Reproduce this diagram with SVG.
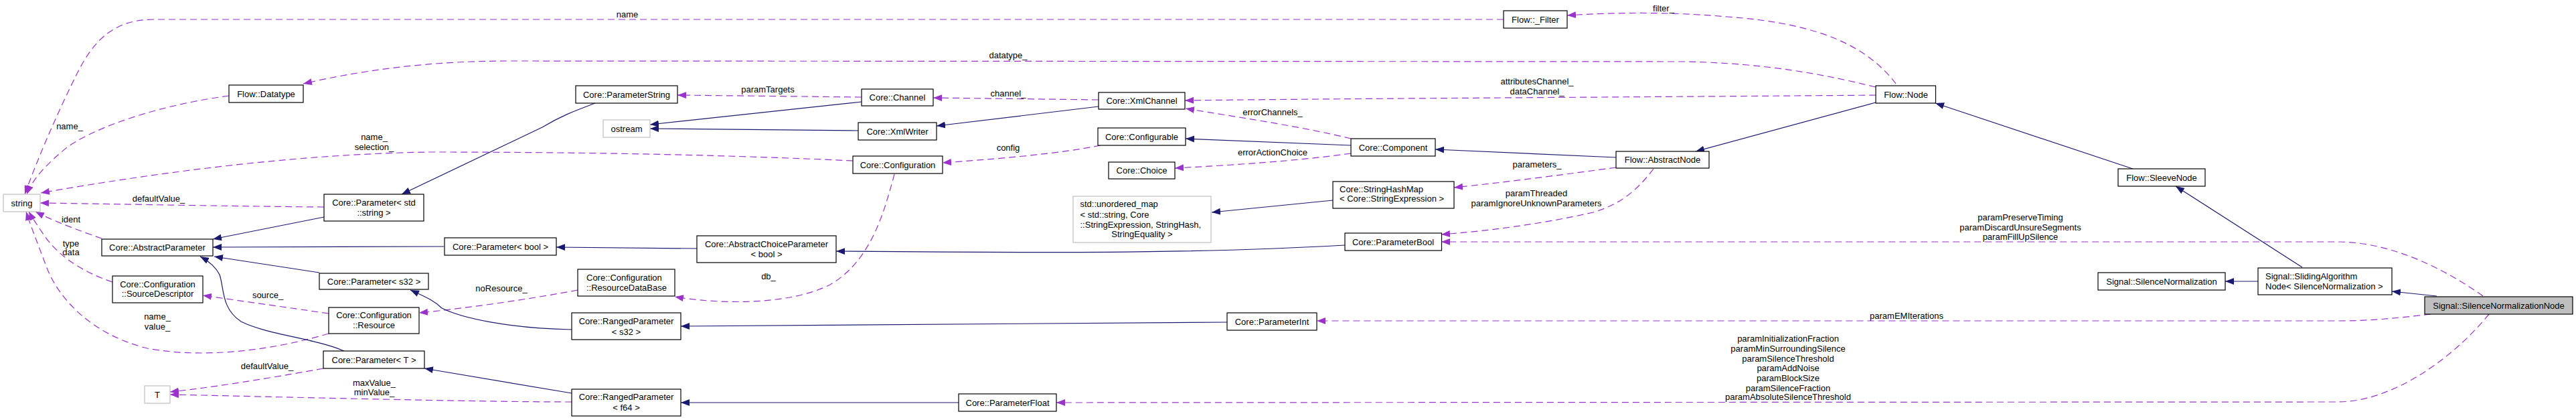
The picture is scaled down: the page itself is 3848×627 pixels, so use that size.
<svg xmlns="http://www.w3.org/2000/svg" width="3848" height="627" viewBox="0 0 3848 627">
<style>
text{font-family:"Liberation Sans",Arial,Helvetica,sans-serif;font-size:13px;fill:#000}
.c{text-anchor:middle}
.l{text-anchor:start}
.n rect{fill:#fff;stroke:#000;stroke-width:1.2}
.x rect{fill:#fff;stroke:#bfbfbf;stroke-width:1.2}
.f rect{fill:#bfbfbf;stroke:#000;stroke-width:1.2}
.inh path{fill:none;stroke:#191970;stroke-width:1.2;marker-end:url(#ai)}
.use path{fill:none;stroke:#9a32cd;stroke-width:1.2;stroke-dasharray:10,6;marker-end:url(#au)}
</style>
<defs>
<marker id="ai" viewBox="0 0 13 10" refX="13" refY="5" markerWidth="13" markerHeight="10" markerUnits="userSpaceOnUse" orient="auto"><path d="M0,0L13,5L0,10z" fill="#191970"/></marker>
<marker id="au" viewBox="0 0 13 10" refX="13" refY="5" markerWidth="13" markerHeight="10" markerUnits="userSpaceOnUse" orient="auto"><path d="M0,0L13,5L0,10z" fill="#9a32cd"/></marker>
</defs>
<rect width="3848" height="627" fill="#fff"/>
<g id="edges">
<g class="use">
<path d="M2246,29L230,29C170,29 140,60 115,110C85,170 55,240 37,290"/>
<path d="M2802,130C2720,110 2640,95 2520,92L760,91C640,91 540,105 453,125"/>
<path d="M2832,125C2790,70 2720,35 2580,25C2500,18 2420,18 2341,23"/>
<path d="M2802,142C2600,144 2000,147 1770,150"/>
<path d="M1641,149L1394,146"/>
<path d="M1287,145L1012,142"/>
<path d="M1644,217C1580,230 1480,238 1408,243"/>
<path d="M1274,240C1100,232 900,227 641,227C450,230 250,255 61,288"/>
<path d="M1336,260C1320,320 1300,390 1240,425C1180,455 1080,455 1008,443"/>
<path d="M863,433C800,445 700,460 626,467"/>
<path d="M491,468L303,441"/>
<path d="M491,498C400,525 300,535 220,520C140,500 90,450 70,400C55,360 45,335 39,316"/>
<path d="M168,421C120,405 85,380 65,350C55,335 48,325 43,316"/>
<path d="M152,356C120,345 80,330 53,316"/>
<path d="M342,143C250,155 150,185 100,220C70,245 50,265 40,290"/>
<path d="M484,309C350,308 200,305 60,303"/>
<path d="M483,550C400,565 320,578 254,585"/>
<path d="M854,600C700,600 400,592 254,589"/>
<path d="M2018,207C1950,190 1850,175 1771,162"/>
<path d="M2018,229C1940,240 1850,246 1755,251"/>
<path d="M2414,250C2340,260 2250,272 2172,280"/>
<path d="M2470,252C2445,285 2420,305 2380,317C2300,335 2220,345 2153,350"/>
<path d="M3709,442C3650,400 3570,361 3492,361L2153,361"/>
<path d="M3631,469C3580,475 3540,479 3492,479L1967,479"/>
<path d="M3718,469C3660,540 3570,600 3492,600L1578,601"/>
</g>
<g class="inh">
<path d="M889,154C860,165 840,172 810,190L600,290"/>
<path d="M484,324L318,357"/>
<path d="M663,368L318,369"/>
<path d="M477,407L320,383"/>
<path d="M514,524C470,505 400,500 360,480C330,460 335,430 328,410C322,398 312,390 299,383"/>
<path d="M854,492C760,490 690,475 660,460C650,450 640,445 613,433"/>
<path d="M854,587L634,550"/>
<path d="M1041,371L831,369"/>
<path d="M2009,366C1800,378 1600,378 1249,375"/>
<path d="M1833,481L1017,487"/>
<path d="M1432,601L1017,601"/>
<path d="M1641,159L1399,188"/>
<path d="M1287,152L971,186"/>
<path d="M1282,195L971,192"/>
<path d="M2018,217L1771,207"/>
<path d="M1991,299L1810,317"/>
<path d="M2414,235L2144,223"/>
<path d="M2802,153L2533,226"/>
<path d="M3186,252L2891,154"/>
<path d="M3439,399L3250,278"/>
<path d="M3373,420L3324,420"/>
<path d="M3640,442L3573,435"/>
</g>
<g id="labels">
<text class="c" x="937" y="25.5">name</text>
<text class="c" x="1506" y="86.5">datatype_</text>
<text class="c" x="2485" y="16.5">filter_</text>
<text class="c" x="2296" y="125.5">attributesChannel_</text>
<text class="c" x="2296" y="140.5">dataChannel_</text>
<text class="c" x="1506" y="143.5">channel_</text>
<text class="c" x="1147" y="137.5">paramTargets</text>
<text class="c" x="1506" y="224.5">config</text>
<text class="c" x="559" y="208.5">name_</text>
<text class="c" x="559" y="223.5">selection_</text>
<text class="c" x="1148" y="416.5">db_</text>
<text class="c" x="749" y="434.5">noResource_</text>
<text class="c" x="400" y="444.5">source_</text>
<text class="c" x="235" y="476.5">name_</text>
<text class="c" x="235" y="491.5">value_</text>
<text class="c" x="106" y="367.5">type</text>
<text class="c" x="106" y="380.5">data</text>
<text class="c" x="106" y="331.5">ident</text>
<text class="c" x="104" y="192.5">name_</text>
<text class="c" x="237" y="300.5">defaultValue_</text>
<text class="c" x="399" y="550.5">defaultValue_</text>
<text class="c" x="559" y="575.5">maxValue_</text>
<text class="c" x="559" y="589.5">minValue_</text>
<text class="c" x="1901" y="171.5">errorChannels_</text>
<text class="c" x="1901" y="231.5">errorActionChoice</text>
<text class="c" x="2296" y="249.5">parameters_</text>
<text class="c" x="2295" y="292.5">paramThreaded</text>
<text class="c" x="2295" y="307.5">paramIgnoreUnknownParameters</text>
<text class="c" x="3018" y="328.5">paramPreserveTiming</text>
<text class="c" x="3018" y="343.5">paramDiscardUnsureSegments</text>
<text class="c" x="3018" y="357.5">paramFillUpSilence</text>
<text class="c" x="2848" y="475.5">paramEMIterations</text>
<text class="c" x="2671" y="509.5">paramInitializationFraction</text>
<text class="c" x="2671" y="524.5">paramMinSurroundingSilence</text>
<text class="c" x="2671" y="539.5">paramSilenceThreshold</text>
<text class="c" x="2671" y="553.5">paramAddNoise</text>
<text class="c" x="2671" y="568.5">paramBlockSize</text>
<text class="c" x="2671" y="583.5">paramSilenceFraction</text>
<text class="c" x="2671" y="597">paramAbsoluteSilenceThreshold</text>
</g>
</g>
<g id="n_string" class="x"><rect x="5" y="290" width="55" height="26"/><text class="c" x="32.5" y="307.5">string</text></g>
<g id="n_datatype" class="n"><rect x="342" y="127" width="111" height="26"/><text class="c" x="397.5" y="144.5">Flow::Datatype</text></g>
<g id="n_param_string" class="n"><rect x="484" y="290" width="149" height="40"/><text class="c" x="558.5" y="306.5">Core::Parameter&lt; std</text><text class="c" x="558.5" y="321.5">::string &gt;</text></g>
<g id="n_abstractparam" class="n"><rect x="152" y="357" width="166" height="25"/><text class="c" x="235" y="374">Core::AbstractParameter</text></g>
<g id="n_sourcedesc" class="n"><rect x="168" y="412" width="135" height="40"/><text class="c" x="235.5" y="428.5">Core::Configuration</text><text class="c" x="235.5" y="442.5">::SourceDescriptor</text></g>
<g id="n_param_s32" class="n"><rect x="477" y="408" width="163" height="24"/><text class="c" x="558.5" y="425">Core::Parameter&lt; s32 &gt;</text></g>
<g id="n_resource" class="n"><rect x="491" y="459" width="135" height="39"/><text class="c" x="558.5" y="474.5">Core::Configuration</text><text class="c" x="558.5" y="489.5">::Resource</text></g>
<g id="n_param_T" class="n"><rect x="483" y="524" width="151" height="26"/><text class="c" x="558.5" y="541.5">Core::Parameter&lt; T &gt;</text></g>
<g id="n_T" class="x"><rect x="216" y="576" width="38" height="26"/><text class="c" x="235" y="593.5">T</text></g>
<g id="n_paramstring" class="n"><rect x="860" y="128" width="152" height="26"/><text class="c" x="936" y="145.5">Core::ParameterString</text></g>
<g id="n_ostream" class="x"><rect x="901" y="179" width="70" height="26"/><text class="c" x="936" y="196.5">ostream</text></g>
<g id="n_param_bool" class="n"><rect x="664" y="355" width="167" height="26"/><text class="c" x="747.5" y="372.5">Core::Parameter&lt; bool &gt;</text></g>
<g id="n_abschoice" class="n"><rect x="1041" y="352" width="208" height="40"/><text class="c" x="1145" y="368.5">Core::AbstractChoiceParameter</text><text class="c" x="1145" y="383.5">&lt; bool &gt;</text></g>
<g id="n_resdb" class="n"><rect x="863" y="402" width="145" height="40"/><text class="l" x="876" y="418.5">Core::Configuration</text><text class="l" x="876" y="433.5">::ResourceDataBase</text></g>
<g id="n_ranged_s32" class="n"><rect x="854" y="467" width="163" height="40"/><text class="c" x="935.5" y="483.5">Core::RangedParameter</text><text class="c" x="935.5" y="499.5">&lt; s32 &gt;</text></g>
<g id="n_ranged_f64" class="n"><rect x="854" y="581" width="163" height="40"/><text class="c" x="935.5" y="596.5">Core::RangedParameter</text><text class="c" x="935.5" y="612.5">&lt; f64 &gt;</text></g>
<g id="n_channel" class="n"><rect x="1287" y="133" width="107" height="25"/><text class="c" x="1340.5" y="150">Core::Channel</text></g>
<g id="n_xmlwriter" class="n"><rect x="1282" y="183" width="117" height="26"/><text class="c" x="1340.5" y="200.5">Core::XmlWriter</text></g>
<g id="n_configuration" class="n"><rect x="1274" y="233" width="134" height="26"/><text class="c" x="1341" y="250.5">Core::Configuration</text></g>
<g id="n_xmlchannel" class="n"><rect x="1641" y="138" width="129" height="25"/><text class="c" x="1705.5" y="155">Core::XmlChannel</text></g>
<g id="n_configurable" class="n"><rect x="1640" y="191" width="131" height="26"/><text class="c" x="1705.5" y="208.5">Core::Configurable</text></g>
<g id="n_choice" class="n"><rect x="1656" y="242" width="99" height="25"/><text class="c" x="1705.5" y="259">Core::Choice</text></g>
<g id="n_unordered_map" class="x"><rect x="1603" y="293" width="206" height="69"/><text class="l" x="1613.5" y="308.5">std::unordered_map</text><text class="l" x="1613.5" y="324.5">&lt; std::string, Core</text><text class="l" x="1613.5" y="339.5">::StringExpression, StringHash,</text><text class="c" x="1706" y="353.5">StringEquality &gt;</text></g>
<g id="n_paramint" class="n"><rect x="1833" y="467" width="134" height="26"/><text class="c" x="1900" y="484.5">Core::ParameterInt</text></g>
<g id="n_paramfloat" class="n"><rect x="1432" y="588" width="146" height="26"/><text class="c" x="1505" y="605.5">Core::ParameterFloat</text></g>
<g id="n_filter" class="n"><rect x="2246" y="16" width="95" height="26"/><text class="c" x="2293.5" y="33.5">Flow::_Filter</text></g>
<g id="n_component" class="n"><rect x="2018" y="207" width="126" height="26"/><text class="c" x="2081" y="224.5">Core::Component</text></g>
<g id="n_abstractnode" class="n"><rect x="2414" y="226" width="139" height="25"/><text class="c" x="2483.5" y="243">Flow::AbstractNode</text></g>
<g id="n_stringhashmap" class="n"><rect x="1991" y="271" width="181" height="40"/><text class="l" x="2001" y="287">Core::StringHashMap</text><text class="l" x="2001" y="301">&lt; Core::StringExpression &gt;</text></g>
<g id="n_parambool" class="n"><rect x="2009" y="348" width="144.5" height="26"/><text class="c" x="2081" y="365.5">Core::ParameterBool</text></g>
<g id="n_node" class="n"><rect x="2802" y="128" width="89.5" height="26"/><text class="c" x="2847" y="145.5">Flow::Node</text></g>
<g id="n_sleevenode" class="n"><rect x="3164" y="252" width="130" height="26"/><text class="c" x="3229" y="269.5">Flow::SleeveNode</text></g>
<g id="n_silencenorm" class="n"><rect x="3134" y="407" width="190" height="26"/><text class="c" x="3229" y="424.5">Signal::SilenceNormalization</text></g>
<g id="n_sliding" class="n"><rect x="3373" y="400" width="200" height="40"/><text class="l" x="3384" y="416.5">Signal::SlidingAlgorithm</text><text class="l" x="3384" y="431.5">Node&lt; SilenceNormalization &gt;</text></g>
<g id="n_focus" class="f"><rect x="3622" y="443" width="221" height="26"/><text class="c" x="3732.5" y="460.5">Signal::SilenceNormalizationNode</text></g>
</svg>
